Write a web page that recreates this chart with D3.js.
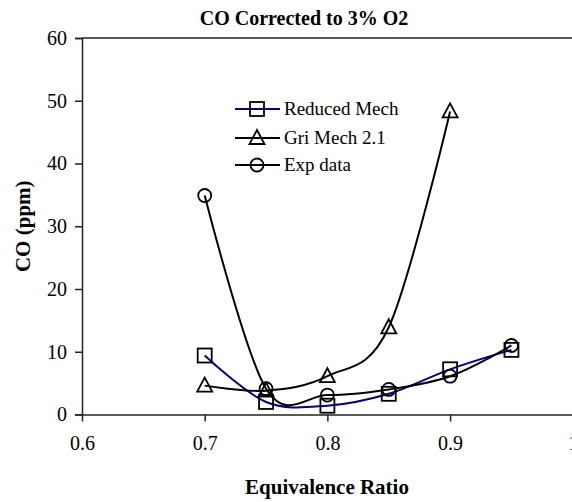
<!DOCTYPE html>
<html>
<head>
<meta charset="utf-8">
<script src="https://cdn.jsdelivr.net/npm/d3@7"></script>
<style>
  html, body { margin: 0; padding: 0; background: #fff; }
  svg { display: block; font-family: "Liberation Serif", "Times New Roman", serif; }
</style>
</head>
<body>
<svg id="chart" width="572" height="502"></svg>
<script>
// Equivalence ratio for each series
const phiReduced = [0.70, 0.75, 0.80, 0.85, 0.90, 0.95];
const coReduced  = [9.4, 2.0, 1.4, 3.3, 7.2, 10.3];

const phiGri = [0.70, 0.75, 0.80, 0.85, 0.90];
const coGri  = [4.6, 3.8, 6.1, 13.9, 48.3];

const phiExp = [0.70, 0.75, 0.80, 0.85, 0.90, 0.95];
const coExp  = [34.9, 4.1, 3.1, 4.0, 6.1, 11.0];

const xTicks = [0.6, 0.7, 0.8, 0.9, 1.0];
const yTicks = [0, 10, 20, 30, 40, 50, 60];

const seriesNames = ["Reduced Mech", "Gri Mech 2.1", "Exp data"];

const svg = d3.select("#chart");

const plotLeft = 82, plotRight = 572.8, plotTop = 38, plotBottom = 414.5;
const x = d3.scaleLinear().domain([0.6, 1.0]).range([plotLeft, plotRight]);
const y = d3.scaleLinear().domain([0, 60]).range([plotBottom, plotTop]);

// Title
svg.append("text")
  .attr("x", 304).attr("y", 25)
  .attr("text-anchor", "middle")
  .attr("font-weight", "bold").attr("font-size", 20)
  .text("CO Corrected to 3% O2");

// Top frame line
svg.append("line")
  .attr("x1", plotLeft).attr("x2", 572).attr("y1", y(60)).attr("y2", y(60))
  .attr("stroke", "#222").attr("stroke-width", 1.5);

// Axes
const xAxis = svg.append("g")
  .attr("transform", `translate(0,${plotBottom})`)
  .call(d3.axisBottom(x).tickValues(xTicks).tickSize(7).tickPadding(14)
    .tickFormat(d => d === 1 ? "1" : d3.format(".1f")(d)));
const yAxis = svg.append("g")
  .attr("transform", `translate(${plotLeft},0)`)
  .call(d3.axisLeft(y).tickValues(yTicks).tickSize(7).tickPadding(8));

[xAxis, yAxis].forEach(g => {
  g.select(".domain").attr("stroke", "#222").attr("stroke-width", 1.5);
  g.selectAll(".tick line").attr("stroke", "#222").attr("stroke-width", 1.5);
  g.selectAll(".tick text")
    .attr("font-family", "Liberation Serif, Times New Roman, serif")
    .attr("font-size", 20).attr("fill", "#000");
});
xAxis.select(".domain").attr("d", `M${plotLeft},0.5H572`);

// Axis titles
svg.append("text")
  .attr("x", 327).attr("y", 494)
  .attr("text-anchor", "middle")
  .attr("font-weight", "bold").attr("font-size", 21)
  .text("Equivalence Ratio");
svg.append("text")
  .attr("transform", `translate(30,${(plotTop + plotBottom) / 2}) rotate(-90)`)
  .attr("text-anchor", "middle")
  .attr("font-weight", "bold").attr("font-size", 21)
  .text("CO (ppm)");

// Smoothed series lines
const line = d3.line()
  .x(d => x(d[0])).y(d => y(d[1]))
  .curve(d3.curveCatmullRom.alpha(0));

const series = [
  { name: seriesNames[0], phi: phiReduced, co: coReduced, color: "#000080", marker: "square" },
  { name: seriesNames[1], phi: phiGri, co: coGri, color: "#000", marker: "triangle" },
  { name: seriesNames[2], phi: phiExp, co: coExp, color: "#000", marker: "circle" }
];

function drawMarker(g, type, cx, cy) {
  const s = { fill: "none", stroke: "#000", "stroke-width": 1.8 };
  let m;
  if (type === "square") {
    m = g.append("rect").attr("x", cx - 7).attr("y", cy - 7).attr("width", 14).attr("height", 14);
  } else if (type === "triangle") {
    m = g.append("path").attr("d", `M${cx},${cy - 8}L${cx + 7.5},${cy + 6}L${cx - 7.5},${cy + 6}Z`);
  } else {
    m = g.append("circle").attr("cx", cx).attr("cy", cy).attr("r", 6.5);
  }
  Object.entries(s).forEach(([k, v]) => m.attr(k, v));
}

series.forEach(s => {
  const pts = s.phi.map((p, i) => [p, s.co[i]]);
  svg.append("path")
    .datum(pts)
    .attr("d", line)
    .attr("fill", "none")
    .attr("stroke", s.color)
    .attr("stroke-width", 2);
});

series.forEach(s => {
  const g = svg.append("g");
  s.phi.forEach((p, i) => drawMarker(g, s.marker, x(p), y(s.co[i])));
});

// Legend
const legendY = [109, 138, 165];
series.forEach((s, i) => {
  const g = svg.append("g");
  g.append("line")
    .attr("x1", 235).attr("x2", 280).attr("y1", legendY[i]).attr("y2", legendY[i])
    .attr("stroke", s.color).attr("stroke-width", 2);
  drawMarker(g, s.marker, 257, legendY[i]);
  g.append("text")
    .attr("x", 284).attr("y", legendY[i] + 6)
    .attr("font-size", 19)
    .text(s.name);
});
</script>
</body>
</html>
